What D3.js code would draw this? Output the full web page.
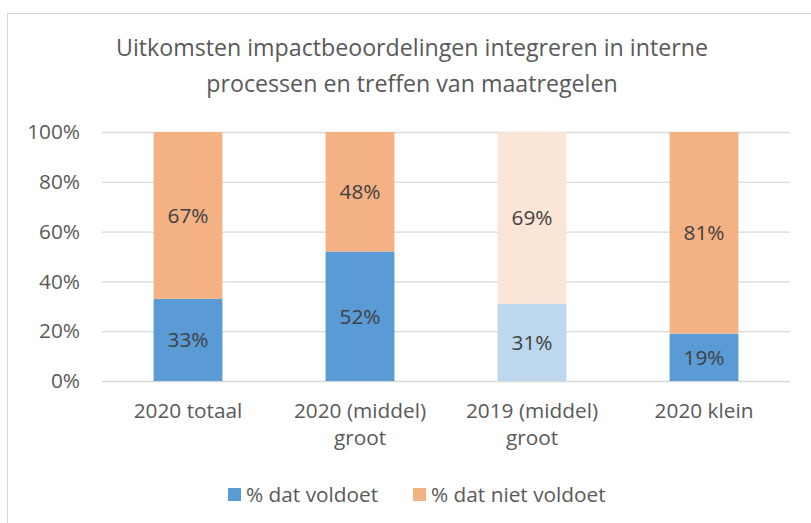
<!DOCTYPE html>
<html>
<head>
<meta charset="utf-8">
<script src="https://cdn.jsdelivr.net/npm/d3@7"></script>
<style>
  body { margin: 0; background: #fff; }
  svg text { font-family: "Open Sans", sans-serif; }
</style>
</head>
<body>
<svg class="chart"></svg>
<script>
var width = 811, height = 523;

// chart data
var categories = ["2020 totaal", "2020 (middel) groot", "2019 (middel) groot", "2020 klein"];
var categoryLines = [["2020 totaal"], ["2020 (middel)", "groot"], ["2019 (middel)", "groot"], ["2020 klein"]];
var voldoet = [33, 52, 31, 19];
var nietVoldoet = [67, 48, 69, 81];
var seriesNames = ["% dat voldoet", "% dat niet voldoet"];
var yTicks = [0, 20, 40, 60, 80, 100];
var titleLines = ["Uitkomsten impactbeoordelingen integreren in interne", "processen en treffen van maatregelen"];

// colours: normal and faded (2019 bar is lighter)
var blue = "#5b9bd5", orange = "#f4b183";
var blueLight = "#bdd7ee", orangeLight = "#fbe5d6";
var faded = [false, false, true, false];

var fontBig = 23.2, fontNormal = 20.8;

var chart = d3.select(".chart")
    .attr("width", width)
    .attr("height", height);

// outer border
chart.append("rect")
    .attr("x", 7.5).attr("y", 13.5)
    .attr("width", width + 10).attr("height", height + 10)
    .attr("fill", "white")
    .attr("stroke", "#d9d9d9");

// title
chart.append("g").selectAll("text")
    .data(titleLines)
    .enter().append("text")
    .attr("x", 412)
    .attr("y", function(d, i) { return 56 + i * 36; })
    .attr("text-anchor", "middle")
    .attr("font-size", fontBig)
    .attr("fill", "#595959")
    .text(function(d) { return d; });

var plotLeft = 102, plotRight = 790, plotTop = 132, plotBottom = 381;

var x = d3.scaleBand()
    .domain(categories)
    .range([plotLeft, plotRight])
    .paddingInner(0.6)
    .paddingOuter(0.3);

var y = d3.scaleLinear()
    .domain([0, 100])
    .range([plotBottom, plotTop]);

// gridlines + y labels
var yAxis = d3.axisLeft(y)
    .tickValues(yTicks)
    .tickSize(-(plotRight - plotLeft))
    .tickPadding(22)
    .tickFormat(function(d) { return d + "%"; });

var gy = chart.append("g")
    .attr("transform", "translate(" + plotLeft + ",0)")
    .call(yAxis);
gy.select(".domain").remove();
gy.selectAll("line").attr("stroke", "#d9d9d9").attr("stroke-width", 1.3);
gy.selectAll("text")
    .attr("font-size", fontNormal)
    .attr("fill", "#595959")
    .attr("font-family", "'Open Sans', sans-serif");

// stacked bars
var rows = categories.map(function(c, i) {
    return { cat: c, v: voldoet[i], n: nietVoldoet[i], faded: faded[i] };
});
var stack = d3.stack().keys(["v", "n"]);
var layers = stack(rows);

var layer = chart.append("g").selectAll("g")
    .data(layers)
    .enter().append("g");

layer.selectAll("rect")
    .data(function(d) { return d.map(function(p) { p.key = d.key; return p; }); })
    .enter().append("rect")
    .attr("x", function(d) { return x(d.data.cat); })
    .attr("y", function(d) { return y(d[1]); })
    .attr("width", x.bandwidth())
    .attr("height", function(d) { return y(d[0]) - y(d[1]); })
    .attr("fill", function(d) {
        if (d.key == "v") return d.data.faded ? blueLight : blue;
        return d.data.faded ? orangeLight : orange;
    });

layer.selectAll("text")
    .data(function(d) { return d.map(function(p) { p.key = d.key; return p; }); })
    .enter().append("text")
    .attr("x", function(d) { return x(d.data.cat) + x.bandwidth() / 2; })
    .attr("y", function(d) { return (y(d[0]) + y(d[1])) / 2; })
    .attr("dy", "0.35em")
    .attr("text-anchor", "middle")
    .attr("font-size", fontNormal)
    .attr("fill", "#404040")
    .text(function(d) { return (d[1] - d[0]) + "%"; });

// x axis (category labels)
var xAxis = d3.axisBottom(x).tickSize(0).tickPadding(0).tickFormat("");
var gx = chart.append("g")
    .attr("transform", "translate(0," + plotBottom + ")")
    .call(xAxis);
gx.select(".domain").remove();
gx.selectAll(".tick").each(function(d, i) {
    var t = d3.select(this).append("text")
        .attr("text-anchor", "middle")
        .attr("font-size", fontNormal)
        .attr("fill", "#595959");
    categoryLines[i].forEach(function(line, j) {
        t.append("tspan")
            .attr("x", 0)
            .attr("y", 37 + j * 27)
            .text(line);
    });
});

// legend
var legendX = [228, 413];
var legend = chart.append("g").selectAll("g")
    .data(seriesNames)
    .enter().append("g")
    .attr("transform", function(d, i) { return "translate(" + legendX[i] + ",488)"; });
legend.append("rect")
    .attr("width", 13).attr("height", 13)
    .attr("fill", function(d, i) { return i == 0 ? blue : orange; });
legend.append("text")
    .attr("x", 18).attr("y", 13.5)
    .attr("font-size", fontNormal)
    .attr("fill", "#595959")
    .text(function(d) { return d; });
</script>
</body>
</html>
